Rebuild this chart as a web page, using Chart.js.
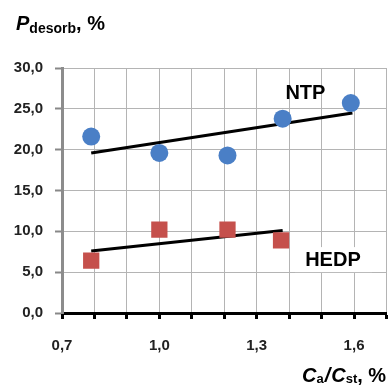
<!DOCTYPE html>
<html lang="en">
<head>
<meta charset="utf-8">
<style>
  html, body { margin: 0; padding: 0; background: #fff; overflow: hidden; width: 390px; height: 388px; }
  #wrap { width: 398px; height: 388px; position: relative; }
  canvas { display: block; }
</style>
<script src="https://cdn.jsdelivr.net/npm/chart.js"></script>
</head>
<body>
<div id="wrap"><canvas id="myChart"></canvas></div>
<script>
// ticks
const xTicks = [0.7, 0.8, 0.9, 1.0, 1.1, 1.2, 1.3, 1.4, 1.5, 1.6, 1.7];
const xLabelled = [0.7, 1.0, 1.3, 1.6];
const yTicks = [0, 5, 10, 15, 20, 25, 30];

// NTP points + trend
const ntpX = [0.79, 1.0, 1.21, 1.38, 1.59];
const ntpY = [21.6, 19.6, 19.3, 23.8, 25.7];
const ntpTrendX = [0.79, 1.595];
const ntpTrendY = [19.6, 24.5];

// HEDP points + trend
const hedpX = [0.79, 1.0, 1.21, 1.375];
const hedpY = [6.4, 10.2, 10.2, 8.9];
const hedpTrendX = [0.79, 1.38];
const hedpTrendY = [7.6, 10.1];

const pts = (xs, ys) => xs.map((x, i) => ({ x: x, y: ys[i] }));
const comma = v => v.toFixed(1).replace('.', ',');

const FONT = '"Liberation Sans", Arial, sans-serif';

const labelsPlugin = {
    id: 'labels',
    afterDraw(chart) {
        const ctx = chart.ctx;
        const xs = chart.scales.x, ys = chart.scales.y;
        ctx.save();
        ctx.fillStyle = '#000';
        ctx.textBaseline = 'alphabetic';

        // NTP
        ctx.font = 'bold 20px ' + FONT;
        ctx.textAlign = 'center';
        ctx.fillText('NTP', xs.getPixelForValue(1.45), ys.getPixelForValue(26.2));

        // HEDP with white box
        const hx = xs.getPixelForValue(1.535), hy = ys.getPixelForValue(6.6);
        ctx.fillStyle = '#fff';
        ctx.fillRect(hx - 38, hy - 12, 77, 25);
        ctx.fillStyle = '#000';
        ctx.fillText('HEDP', hx, hy + 7);

        // y title
        ctx.textAlign = 'left';
        let x = 16;
        ctx.font = 'italic bold 20px ' + FONT;
        ctx.fillText('P', x, 30); x += ctx.measureText('P').width;
        ctx.font = 'bold 14px ' + FONT;
        ctx.fillText('desorb', x, 33); x += ctx.measureText('desorb').width;
        ctx.font = 'bold 20px ' + FONT;
        ctx.fillText(', %', x, 30);

        // x title
        x = 302;
        const by = 382;
        ctx.font = 'italic bold 20px ' + FONT;
        ctx.fillText('C', x, by); x += ctx.measureText('C').width;
        ctx.font = 'bold 13px ' + FONT;
        ctx.fillText('a', x, by + 1); x += ctx.measureText('a').width + 1;
        ctx.font = 'italic bold 20px ' + FONT;
        ctx.fillText('/', x, by); x += ctx.measureText('/').width + 1;
        ctx.fillText('C', x, by); x += ctx.measureText('C').width;
        ctx.font = 'bold 13px ' + FONT;
        ctx.fillText('st', x, by + 1); x += ctx.measureText('st').width;
        ctx.font = 'bold 20px ' + FONT;
        ctx.fillText(', %', x, by);
        ctx.restore();
    }
};

const config = {
    type: 'scatter',
    data: {
        datasets: [
            {
                label: 'NTP trend',
                data: pts(ntpTrendX, ntpTrendY),
                showLine: true,
                borderColor: '#000',
                borderWidth: 3,
                pointRadius: 0,
                order: 2
            },
            {
                label: 'HEDP trend',
                data: pts(hedpTrendX, hedpTrendY),
                showLine: true,
                borderColor: '#000',
                borderWidth: 3,
                pointRadius: 0,
                order: 2
            },
            {
                label: 'NTP',
                data: pts(ntpX, ntpY),
                pointStyle: 'circle',
                pointRadius: 9,
                backgroundColor: '#4a7fc6',
                borderColor: '#4a7fc6',
                borderWidth: 0,
                order: 1
            },
            {
                label: 'HEDP',
                data: pts(hedpX, hedpY),
                pointStyle: 'rect',
                pointRadius: 11.5,
                backgroundColor: '#c5504c',
                borderColor: '#c5504c',
                borderWidth: 0,
                order: 1
            }
        ]
    },
    options: {
        responsive: true,
        maintainAspectRatio: false,
        animation: false,
        events: [],
        layout: { padding: { top: 68, right: 3, left: 0, bottom: 0 } },
        plugins: { legend: { display: false }, tooltip: { enabled: false } },
        scales: {
            x: {
                type: 'linear',
                min: 0.7,
                max: 1.7,
                afterBuildTicks: s => { s.ticks = xTicks.map(v => ({ value: v })); },
                afterFit: s => { s.height = 75; s.paddingLeft = 0; s.paddingRight = 0; },
                ticks: {
                    autoSkip: false,
                    maxRotation: 0,
                    padding: 18,
                    color: '#222',
                    font: { family: FONT, size: 15, weight: 'bold' },
                    callback: v => xLabelled.some(l => Math.abs(l - v) < 1e-6) ? comma(v) : ''
                },
                grid: { color: '#b4b4b4', lineWidth: 1, tickColor: '#000', tickWidth: 3, tickLength: 6 },
                border: { color: '#000', width: 3 }
            },
            y: {
                min: 0,
                max: 30,
                afterBuildTicks: s => { s.ticks = yTicks.map(v => ({ value: v })); },
                afterFit: s => { s.width = 62; s.paddingTop = 0; s.paddingBottom = 0; },
                ticks: {
                    padding: 12,
                    color: '#222',
                    font: { family: FONT, size: 15, weight: 'bold' },
                    callback: v => comma(v)
                },
                grid: { color: '#b4b4b4', lineWidth: 1, tickColor: '#888', tickWidth: 2, tickLength: 7 },
                border: { color: '#8c8c8c', width: 3 }
            }
        }
    },
    plugins: [labelsPlugin]
};

const myChart = new Chart(document.getElementById('myChart'), config);
</script>
</body>
</html>
